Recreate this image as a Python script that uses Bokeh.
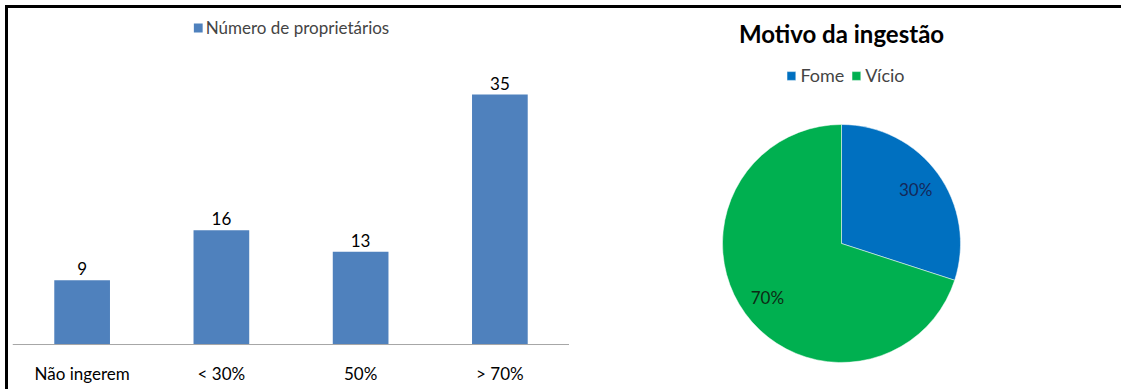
import math
from bokeh.plotting import figure
from bokeh.models import FactorRange, Range1d, ColumnDataSource, Label, Span
from bokeh.layouts import row
from bokeh.embed import file_html
from bokeh.resources import INLINE
from bokeh.core.properties import value

# ---- data ----
categories = ["Não ingerem", "< 30%", "50%", "> 70%"]
owners = [9, 16, 13, 35]
bar_series = "Número de proprietários"

pie_title = "Motivo da ingestão"
pie_labels = ["Fome", "Vício"]
pie_shares = [30, 70]

# ---- styles ----
FONT = "Lato"
FS = "17px"
BAR_COLOR = "#4F81BD"
PIE_COLORS = ["#0070C0", "#00B050"]
PIE_TEXT_COLORS = ["#14285a", "#0d2b14"]

# ---- bar chart ----
bar_src = ColumnDataSource(dict(cat=categories, val=owners, lbl=[str(v) for v in owners],
                                zero=[0] * len(owners)))

p1 = figure(x_range=FactorRange(factors=categories), y_range=Range1d(-6.3, 47.06),
            width=561, height=381, output_backend="svg", toolbar_location=None,
            min_border_left=4, min_border_right=0, min_border_top=0, min_border_bottom=0)
p1.vbar(x="cat", top="val", width=0.4, source=bar_src, fill_color=BAR_COLOR,
        line_color=None, legend_label=bar_series)
p1.add_layout(Span(location=0, dimension="width", line_color="#a6a6a6", line_width=1))
p1.text(x="cat", y="val", text="lbl", source=bar_src, text_align="center",
        text_baseline="bottom", y_offset=-5, text_font=value(FONT),
        text_font_size=FS, text_color="#000000")
# category labels (axis labels) below the baseline
p1.text(x="cat", y="zero", text="cat", source=bar_src, text_align="center",
        text_baseline="middle", y_offset=29, text_font=value(FONT),
        text_font_size=FS, text_color="#000000")
p1.axis.visible = False
p1.xgrid.visible = False
p1.ygrid.visible = False
p1.outline_line_color = None
p1.legend.location = "top_center"
p1.legend.orientation = "horizontal"
p1.legend.border_line_color = None
p1.legend.background_fill_alpha = 0
p1.legend.padding = 0
p1.legend.margin = 9
p1.legend.glyph_width = 11
p1.legend.glyph_height = 11
p1.legend.label_text_font = FONT
p1.legend.label_text_font_size = FS
p1.legend.label_standoff = 3

# ---- pie chart ----
total = float(sum(pie_shares))
starts, ends, mids = [], [], []
acc = 0.0
for s in pie_shares:
    a0 = math.pi / 2 - 2 * math.pi * acc / total
    a1 = math.pi / 2 - 2 * math.pi * (acc + s) / total
    starts.append(a0)
    ends.append(a1)
    mids.append((a0 + a1) / 2)
    acc += s

R = 119
LR = 0.77 * R
pie_src = ColumnDataSource(dict(
    label=pie_labels, start=starts, end=ends, color=PIE_COLORS,
    tx=[LR * math.cos(m) for m in mids], ty=[LR * math.sin(m) for m in mids],
    pct=[f"{int(round(100 * s / total))}%" for s in pie_shares],
    tcolor=PIE_TEXT_COLORS,
))

p2 = figure(x_range=Range1d(-272, 280), y_range=Range1d(-146, 235),
            width=552, height=381, output_backend="svg", toolbar_location=None,
            min_border=0)
p2.wedge(x=0, y=0, radius=R, start_angle="start", end_angle="end", direction="clock",
         fill_color="color", line_color="white", line_width=0.5, source=pie_src,
         legend_field="label")
p2.text(x="tx", y="ty", text="pct", source=pie_src, text_align="center",
        text_baseline="middle", text_font=value(FONT), text_font_size=FS,
        text_color="tcolor")
p2.add_layout(Label(x=0, y=210, text=pie_title, text_align="center", text_baseline="middle",
                    text_font=FONT, text_font_style="bold", text_font_size="24px",
                    text_color="#000000"))
p2.axis.visible = False
p2.grid.visible = False
p2.outline_line_color = None
p2.legend.location = "top_center"
p2.legend.orientation = "horizontal"
p2.legend.border_line_color = None
p2.legend.background_fill_alpha = 0
p2.legend.padding = 0
p2.legend.margin = 56
p2.legend.glyph_width = 11
p2.legend.glyph_height = 11
p2.legend.label_text_font = FONT
p2.legend.label_text_font_size = "18px"
p2.legend.label_standoff = 4
p2.legend.spacing = 6

layout = row(p1, p2, styles={"margin-top": "5px", "margin-left": "5px",
                             "border-top": "3px solid black", "border-left": "3px solid black"})

open("out.html", "w").write(file_html(layout, INLINE))
